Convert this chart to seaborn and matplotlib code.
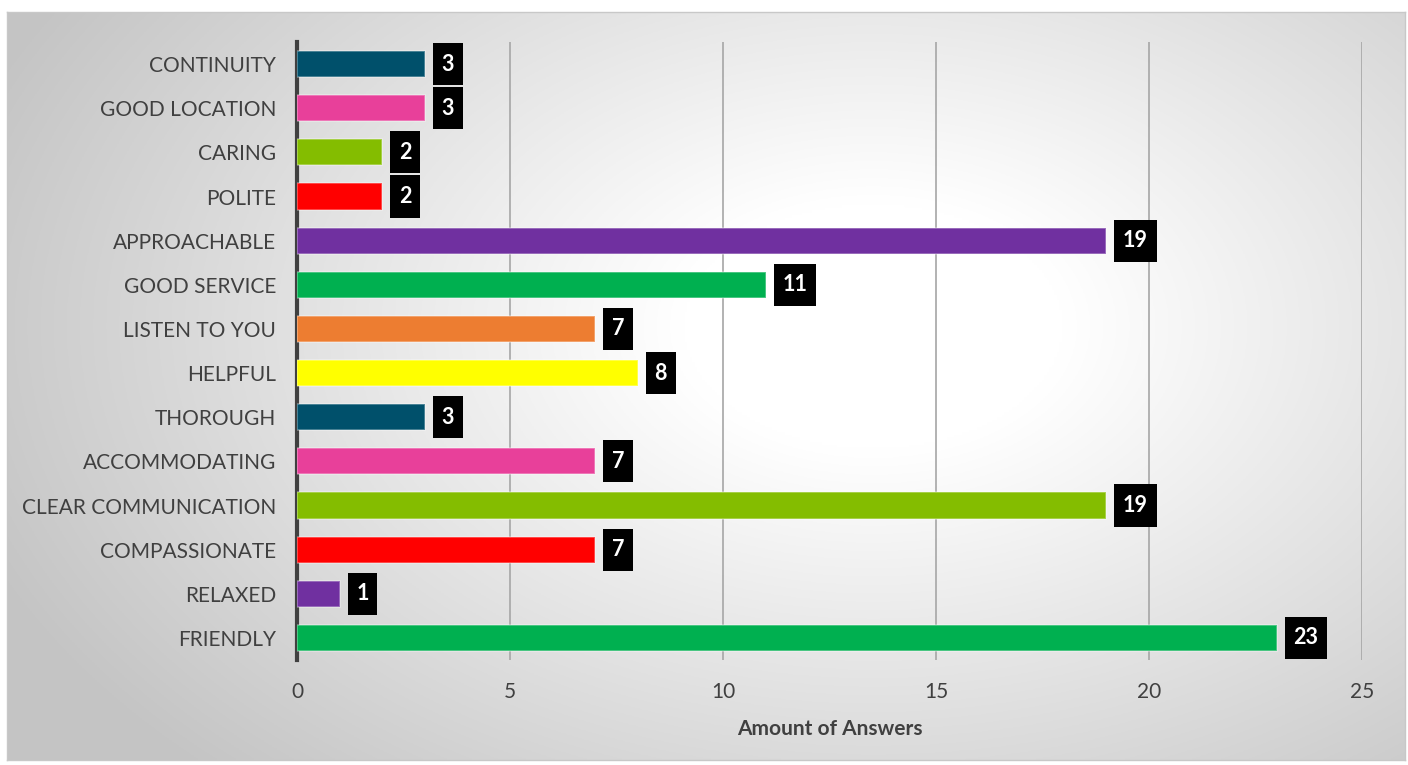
import numpy as np
import pandas as pd
import matplotlib
matplotlib.use("Agg")
import matplotlib.pyplot as plt
from matplotlib.path import Path
import seaborn as sns

categories = ["CONTINUITY", "GOOD LOCATION", "CARING", "POLITE", "APPROACHABLE",
              "GOOD SERVICE", "LISTEN TO YOU", "HELPFUL", "THOROUGH", "ACCOMMODATING",
              "CLEAR COMMUNICATION", "COMPASSIONATE", "RELAXED", "FRIENDLY"]
values = [3, 3, 2, 2, 19, 11, 7, 8, 3, 7, 19, 7, 1, 23]
colors = ["#00506B", "#E8409A", "#84BD00", "#FF0000", "#7030A0", "#00B050", "#ED7D31",
          "#FFFF00", "#00506B", "#E8409A", "#84BD00", "#FF0000", "#7030A0", "#00B050"]
x_ticks = [0, 5, 10, 15, 20, 25]
x_label = "Amount of Answers"

sns.set_theme(style="white")
plt.rcParams['font.family'] = ['Lato', 'DejaVu Sans']

W, H = 14.08, 7.65
fig = plt.figure(figsize=(W, H), dpi=100)
fig.patch.set_facecolor("white")

# background panel with radial gradient
bg = fig.add_axes([7/1408, 1 - 760/765, 1398/1408, 748/765], zorder=0)
yy, xx = np.mgrid[0:1:300j, 0:1:560j]
r = np.sqrt(((xx - 0.62) / 0.62) ** 2 + ((yy - 0.42) / 0.75) ** 2)
g = 1.0 - 0.22 * np.clip((r - 0.22) / 0.85, 0, None)
g = np.clip(g, 0.77, 1.0)
bg.imshow(np.dstack([g, g, g]), aspect="auto", extent=[0, 1, 1, 0])
bg.set_xticks([]); bg.set_yticks([])
for s in bg.spines.values():
    s.set_color("#c8c8c8"); s.set_linewidth(1)

ax = fig.add_axes([297/1408, 1 - 660/765, (1362-297)/1408, (660-42)/765], zorder=1)
ax.patch.set_alpha(0)

df = pd.DataFrame({"cat": categories, "val": values})
sns.barplot(data=df, x="val", y="cat", hue="cat", palette=colors, legend=False,
            orient="h", width=0.59, saturation=1, ax=ax, zorder=3)
for p in ax.patches:
    p.set_edgecolor(matplotlib.colors.to_rgba("white", 0.35))
    p.set_linewidth(1.2)

ax.set_xlim(0, 25)
ax.set_ylim(13.5, -0.5)
ax.set_xticks(x_ticks)
ax.grid(axis="x", color="#a6a6a6", linewidth=1.2, zorder=0)
ax.set_axisbelow(True)
for s in ["top", "right", "bottom"]:
    ax.spines[s].set_visible(False)
ax.spines["left"].set_color("#404040")
ax.spines["left"].set_linewidth(3)
ax.tick_params(axis="y", length=0, pad=15, labelsize=15, labelcolor="#404040")
ax.tick_params(axis="x", length=0, pad=16, labelsize=15, labelcolor="#404040")
ax.set_ylabel("")
ax.set_xlabel(x_label, fontsize=15, fontweight="bold", color="#404040", labelpad=12)


def label_box(x0, y0, width, height, mutation_size):
    px = 0.40 * mutation_size
    py = 0.49 * mutation_size
    xa, xb = x0 - px, x0 + width + px
    ya, yb = y0 - py, y0 + height + py
    return Path([(xa, ya), (xb, ya), (xb, yb), (xa, yb), (xa, ya)], closed=True)


for i, v in enumerate(values):
    ax.annotate(str(v), xy=(v, i), xytext=(12, 0), textcoords="offset points",
                ha="left", va="center", color="white", fontsize=15.5, fontweight="bold",
                bbox=dict(boxstyle=label_box, fc="black", ec="none"), zorder=5)

fig.savefig("out.png", dpi=100)
